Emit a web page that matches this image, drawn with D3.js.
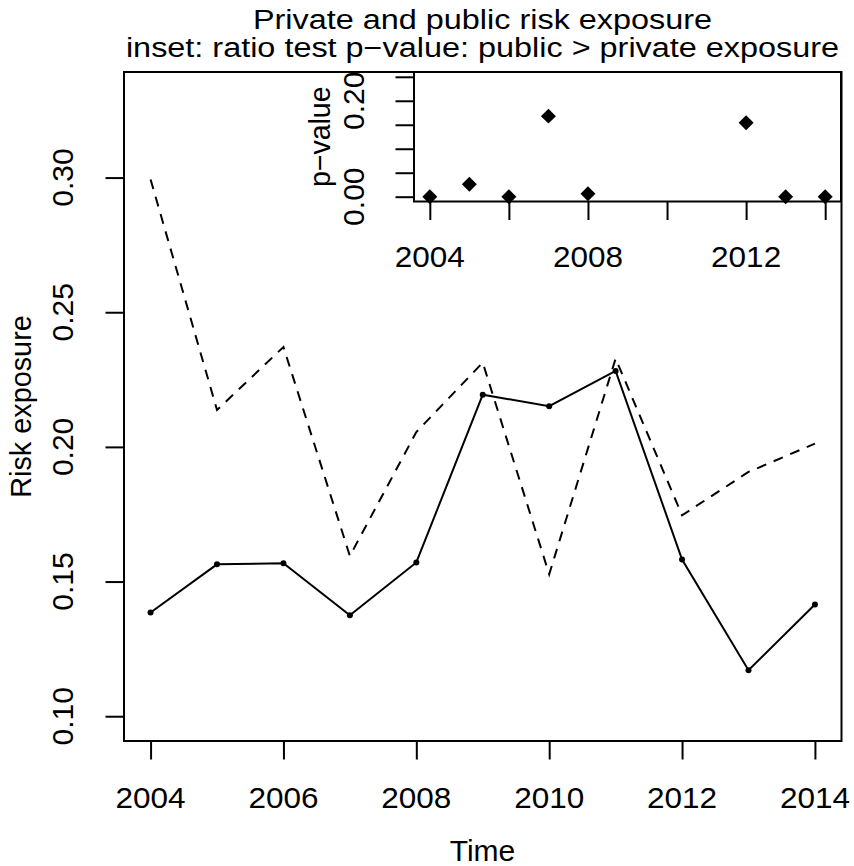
<!DOCTYPE html>
<html><head><meta charset="utf-8">
<script src="https://cdn.jsdelivr.net/npm/d3@7"></script>
<style>body{margin:0;background:#fff}svg{display:block}</style>
</head><body>
<svg id="c" width="854" height="866"></svg>
<script>
// ---------- data ----------
const years = [2004, 2005, 2006, 2007, 2008, 2009, 2010, 2011, 2012, 2013, 2014];
const privateExposure = [0.1385, 0.1564, 0.1568, 0.1375, 0.1571, 0.2194, 0.2151, 0.2282, 0.1582, 0.1171, 0.1415];
const publicExposure  = [0.2993, 0.2137, 0.2371, 0.1595, 0.2055, 0.2313, 0.1527, 0.2328, 0.1746, 0.1907, 0.2012];
const pValues = [0.000, 0.026, 0.000, 0.168, 0.006, null, null, null, 0.154, 0.000, 0.000];

const mainXTicks = [2004, 2006, 2008, 2010, 2012, 2014];
const mainYTicks = [0.10, 0.15, 0.20, 0.25, 0.30];
const insetXTicks = [2004, 2006, 2008, 2010, 2012, 2014];
const insetXLabels = [2004, 2008, 2012];
const insetYTicks = [0.00, 0.05, 0.10, 0.15, 0.20, 0.25];
const insetYLabels = [0.00, 0.20];

const titleLine1 = "Private and public risk exposure";
const titleLine2 = "inset: ratio test p\u2212value: public > private exposure";
const xTitle = "Time";
const yTitle = "Risk exposure";
const insetYTitle = "p\u2212value";

// ---------- setup ----------
const FONT = "'Liberation Sans', Arial, Helvetica, sans-serif";
const svg = d3.select("#c");
svg.append("rect").attr("width", 854).attr("height", 866).attr("fill", "#fff");

function label(g, txt, x, y, rot, fs, stretch) {
  const t = g.append("text")
    .attr("font-family", FONT).attr("font-size", fs).attr("fill", "#000")
    .attr("text-anchor", "middle")
    .attr("transform", `translate(${x},${y})` + (rot ? ` rotate(${rot})` : ""))
    .text(txt);
  if (stretch && stretch !== 1) {
    const len = t.node().getComputedTextLength();
    t.attr("textLength", len * stretch).attr("lengthAdjust", "spacingAndGlyphs");
  }
  return t;
}

// ---------- main plot ----------
const x = d3.scaleLinear().domain([2003.6, 2014.4]).range([124, 841.5]);
const y = d3.scaleLinear().domain([0.0908, 0.3392]).range([741, 72]);
const TICK = 18.5;
const TFS = 30;

const main = svg.append("g");
const xAx = main.append("g").attr("transform", "translate(0,741)")
  .call(d3.axisBottom(x).tickValues(mainXTicks).tickSize(TICK).tickSizeOuter(0).tickFormat(""));
const yAx = main.append("g").attr("transform", "translate(124,0)")
  .call(d3.axisLeft(y).tickValues(mainYTicks).tickSize(TICK).tickSizeOuter(0).tickFormat(""));
[xAx, yAx].forEach(a => {
  a.select(".domain").remove();
  a.selectAll("line").attr("stroke", "#000").attr("stroke-width", 2);
});
mainXTicks.forEach(v => label(main, d3.format("d")(v), x(v), 808, 0, TFS, 1.05));
mainYTicks.forEach(v => label(main, d3.format(".2f")(v), 73, y(v), -90, TFS, 1));

// lines
const lineGen = d3.line().x((d, i) => x(years[i])).y(d => y(d));
main.append("path").datum(publicExposure).attr("d", lineGen)
  .attr("fill", "none").attr("stroke", "#000").attr("stroke-width", 2)
  .attr("stroke-dasharray", "10,8");
main.append("path").datum(privateExposure).attr("d", lineGen)
  .attr("fill", "none").attr("stroke", "#000").attr("stroke-width", 2);
main.selectAll("circle.pt").data(privateExposure).enter().append("circle")
  .attr("class", "pt").attr("cx", (d, i) => x(years[i])).attr("cy", d => y(d))
  .attr("r", 3).attr("fill", "#000");

// box
main.append("rect").attr("x", x.range()[0]).attr("y", y.range()[1])
  .attr("width", x.range()[1] - x.range()[0]).attr("height", y.range()[0] - y.range()[1])
  .attr("fill", "none").attr("stroke", "#000").attr("stroke-width", 2);

// titles
label(svg, titleLine1, 482.5, 29, 0, 27, 1.2);
label(svg, titleLine2, 482.5, 57, 0, 27, 1.2);
label(svg, xTitle, 482.5, 861, 0, TFS, 1);
label(svg, yTitle, 31, (72 + 741) / 2, -90, TFS, 0.96);

// ---------- inset ----------
const ix = d3.scaleLinear().domain([2003.6, 2014.4]).range([414, 841]);
const iy = d3.scaleLinear().domain([-0.01, 0.26]).range([201.5, 72]);
const inset = svg.append("g");
inset.append("rect").attr("x", 414).attr("y", 72).attr("width", 427).attr("height", 129.5)
  .attr("fill", "#fff");
const ixAx = inset.append("g").attr("transform", `translate(0,${iy.range()[0]})`)
  .call(d3.axisBottom(ix).tickValues(insetXTicks).tickSize(TICK).tickSizeOuter(0).tickFormat(""));
const iyAx = inset.append("g").attr("transform", `translate(${ix.range()[0]},0)`)
  .call(d3.axisLeft(iy).tickValues(insetYTicks).tickSize(TICK).tickSizeOuter(0).tickFormat(""));
[ixAx, iyAx].forEach(a => {
  a.select(".domain").remove();
  a.selectAll("line").attr("stroke", "#000").attr("stroke-width", 2);
});
insetXLabels.forEach(v => label(inset, d3.format("d")(v), ix(v), 267, 0, TFS, 1.05));
insetYLabels.forEach(v => label(inset, d3.format(".2f")(v), 364, iy(v), -90, TFS, 1));
label(inset, insetYTitle, 330, (72 + 201.5) / 2, -90, TFS, 0.95);

const diamond = d3.symbol().type(d3.symbolSquare).size(112);
inset.selectAll("path.dm").data(pValues.map((p, i) => ({p, yr: years[i]})).filter(d => d.p !== null))
  .enter().append("path").attr("class", "dm")
  .attr("d", diamond)
  .attr("transform", d => `translate(${ix(d.yr)},${iy(d.p)}) rotate(45)`)
  .attr("fill", "#000");

inset.append("rect").attr("x", 414).attr("y", 72).attr("width", 427).attr("height", 129.5)
  .attr("fill", "none").attr("stroke", "#000").attr("stroke-width", 2);
</script>
</body></html>
